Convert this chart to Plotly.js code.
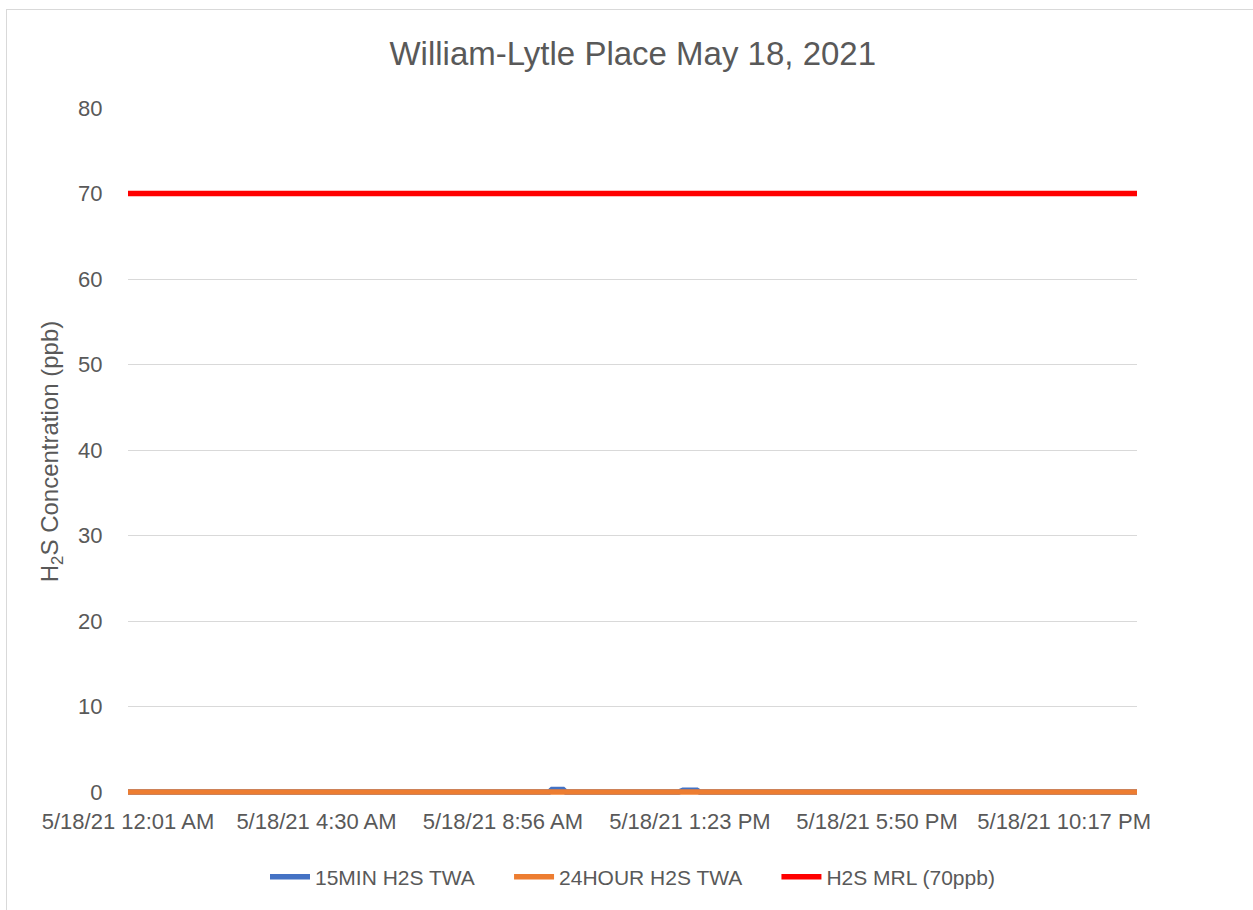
<!DOCTYPE html>
<html>
<head>
<meta charset="utf-8">
<script src="https://cdn.plot.ly/plotly-3.0.1.min.js"></script>
<style>
  html, body { margin: 0; padding: 0; background: #fff; overflow: hidden; }
  #chart { position: absolute; left: 0; top: 0; width: 1253px; height: 910px; }
  #frame { position: absolute; left: 6px; top: 9px; width: 1400px; height: 1100px;
           border: 1.5px solid #d9d9d9; pointer-events: none; }
</style>
</head>
<body>
<div id="chart"></div>
<div id="frame"></div>
<script>
// ---- data ----
const times15 = ['2021-05-18 00:01', '2021-05-18 10:02', '2021-05-18 10:06', '2021-05-18 10:22',
                 '2021-05-18 10:26', '2021-05-18 13:07', '2021-05-18 13:13', '2021-05-18 13:33',
                 '2021-05-18 13:37', '2021-05-19 00:01'];
const twa15 = [0, 0, 0.3, 0.3, 0, 0, 0.2, 0.2, 0, 0];

const times24 = ['2021-05-18 00:01', '2021-05-19 00:01'];
const twa24 = [0, 0];

const timesMRL = ['2021-05-18 00:01', '2021-05-19 00:01'];
const mrl = [70, 70];

const tickTimes = ['2021-05-18 00:01', '2021-05-18 04:30', '2021-05-18 08:56',
                   '2021-05-18 13:23', '2021-05-18 17:50', '2021-05-18 22:17'];
const tickLabels = ['5/18/21 12:01 AM', '5/18/21 4:30 AM', '5/18/21 8:56 AM',
                    '5/18/21 1:23 PM', '5/18/21 5:50 PM', '5/18/21 10:17 PM'];
const yTicks = [0, 10, 20, 30, 40, 50, 60, 70, 80];
const seriesNames = ['15MIN H2S TWA', '24HOUR H2S TWA', 'H2S MRL (70ppb)'];

const FONT = 'Liberation Sans, Arial, sans-serif';
const GREY = '#595959';
const PAD = '\u00a0\u00a0\u00a0\u00a0\u00a0';

const traces = [
  { x: times15, y: twa15, type: 'scatter', mode: 'lines', name: seriesNames[0] + PAD,
    line: { color: '#4472C4', width: 5.5, shape: 'linear' } },
  { x: times24, y: twa24, type: 'scatter', mode: 'lines', name: seriesNames[1] + PAD,
    line: { color: '#ED7D31', width: 5.5 } },
  { x: timesMRL, y: mrl, type: 'scatter', mode: 'lines', name: seriesNames[2],
    line: { color: '#FF0000', width: 5.5 } }
];

const layout = {
  width: 1253, height: 910,
  margin: { l: 128, r: 116, t: 108, b: 115 },
  paper_bgcolor: '#ffffff', plot_bgcolor: '#ffffff',
  font: { family: FONT, color: GREY, size: 22 },
  title: { text: 'William-Lytle Place May 18, 2021', font: { family: FONT, size: 33, color: GREY },
           x: 0.505, xanchor: 'center', xref: 'container', y: 1 - 53 / 910, yanchor: 'middle', yref: 'container' },
  xaxis: {
    type: 'date',
    range: ['2021-05-18 00:01', '2021-05-19 00:01'],
    tickmode: 'array', tickvals: tickTimes, ticktext: tickLabels,
    showgrid: false, zeroline: false, showline: false,
    ticks: 'outside', ticklen: 7, tickcolor: 'rgba(0,0,0,0)',
    tickfont: { family: FONT, size: 22, color: GREY }
  },
  yaxis: {
    range: [-0.35, 80],
    tickmode: 'array', tickvals: yTicks,
    showgrid: true, gridcolor: '#d9d9d9', gridwidth: 1,
    zeroline: false, showline: false,
    ticks: 'outside', ticklen: 20, tickcolor: 'rgba(0,0,0,0)',
    tickfont: { family: FONT, size: 22, color: GREY },
    title: { text: 'H<sub>2</sub>S Concentration (ppb)', font: { family: FONT, size: 24, color: GREY }, standoff: 12 }
  },
  showlegend: true,
  legend: {
    orientation: 'h', x: 0.5, xanchor: 'center', xref: 'paper',
    y: 1 - 877 / 910, yanchor: 'middle', yref: 'container',
    font: { family: FONT, size: 21, color: GREY },
    traceorder: 'normal', itemwidth: 40
  }
};

Plotly.newPlot('chart', traces, layout, { displayModeBar: false, staticPlot: true });
</script>
</body>
</html>
